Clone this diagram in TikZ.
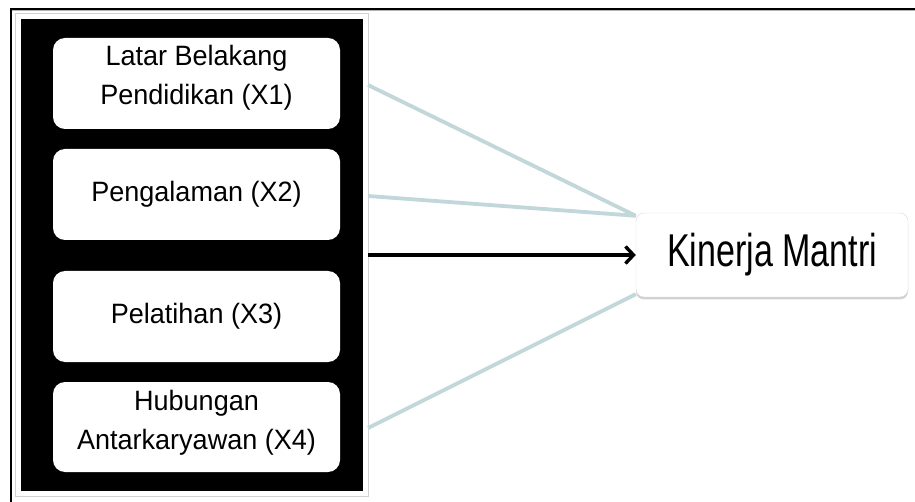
\documentclass[tikz,border=0pt]{standalone}
\usepackage{fontspec}
\setmainfont{Liberation Sans}
\newfontfamily\kfont[FakeStretch=0.74]{Liberation Sans}
\newfontfamily\bfont[FakeStretch=0.965]{Liberation Sans}
\usetikzlibrary{arrows.meta,shadows}
\definecolor{linkc}{HTML}{C2D7DA}
\begin{document}
\begin{tikzpicture}[x=1pt,y=-1pt,
  inbox/.style={fill=white, rounded corners=12pt, minimum width=287pt, minimum height=91pt,
    align=center, inner sep=0pt, font=\bfont\fontsize{28}{39}\selectfont},
  boxtext/.style={font=\bfont\fontsize{28}{39}\selectfont, align=center, inner sep=0pt},
  link/.style={draw=linkc, line width=3.8pt},
  framebox/.style={draw=gray!35, fill=white, line width=0.8pt, inner sep=0pt},
  outcome/.style={draw=gray!30, fill=white, rounded corners=8pt, minimum width=272pt,
    minimum height=84pt, inner sep=0pt, font=\kfont\fontsize{46}{50}\selectfont,
    drop shadow={shadow xshift=0pt, shadow yshift=-2.5pt, opacity=0.35, fill=gray}},
  mainarrow/.style={draw=black, line width=3.4pt, -{Straight Barb[length=8pt,width=17pt]}}]
\useasboundingbox (0,0) rectangle (915,502);
\fill[white] (0,0) rectangle (915,502);
% outer frame edges
\draw[gray!60, line width=1pt] (12,11) -- (915,11);
\draw[line width=2.5pt] (10,9) -- (915,9);
\draw[line width=2.5pt] (11,8) -- (11,502);
% panel
\node[framebox, minimum width=353pt, minimum height=483pt] (frame) at (191.5,254.5) {};
\node[fill=black, inner sep=0pt, minimum width=342pt, minimum height=472pt] (panel) at (192,255) {};
% boxes
\node[inbox] (x1) at (196.5,83.5) {};
\node[boxtext] (x1t) at (196.5,78) {Latar Belakang\\Pendidikan (X1)};
\node[inbox] (x2) at (196.5,194.5) {Pengalaman (X2)};
\node[inbox] (x3) at (196.5,316.5) {Pelatihan (X3)};
\node[inbox, minimum height=90pt] (x4) at (196.5,427) {};
\node[boxtext] (x4t) at (196.5,423) {Hubungan\\Antarkaryawan (X4)};
% outcome
\node[outcome] (k) at (772,255) {Kinerja Mantri};
% connector starts
\coordinate (s1) at (368,85);
\coordinate (s2) at (368,196);
\coordinate (s3) at (368,255);
\coordinate (s4) at (368,428);
% connectors
\draw[link] (s1) -- ([shift={(0,3)}]k.north west);
\draw[link] (s2) -- ([shift={(0,3)}]k.north west);
\draw[link] (s4) -- ([shift={(0,-3)}]k.south west);
\draw[mainarrow] (s3) -- (k.west);
\end{tikzpicture}
\end{document}
